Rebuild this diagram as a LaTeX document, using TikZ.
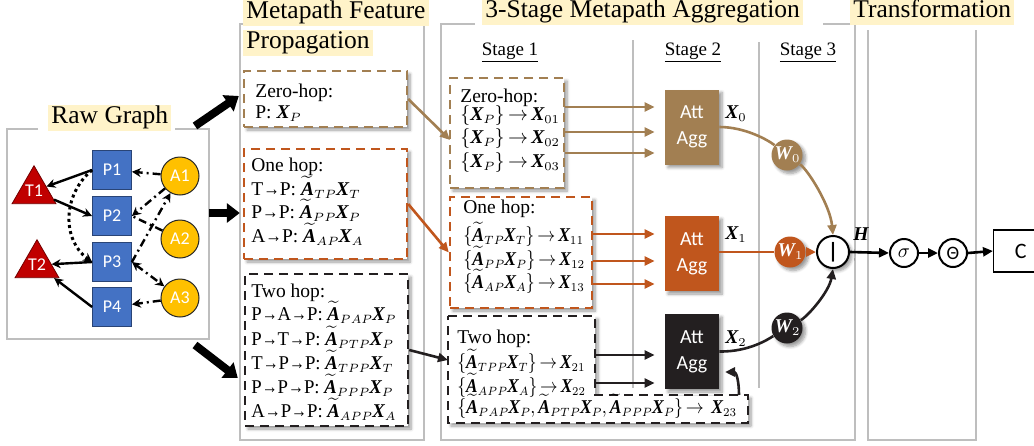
\documentclass[tikz,border=0pt]{standalone}
\usepackage{amsmath}
\usepackage{graphicx}
\usepackage{fontspec}
\setmainfont{Liberation Serif}
\newfontfamily\calib{Carlito}
\usetikzlibrary{arrows.meta,shadows.blur,fit,shapes.geometric,calc}

% smaller subscripts for the body size used in the boxes
\DeclareMathSizes{9.75}{9.75}{6}{4.5}

% bold italic matrix symbols taken from the text face
\newcommand{\BX}{\text{\bfseries\itshape X}}
\newcommand{\BA}{\text{\bfseries\itshape A}}
\newcommand{\BW}{\text{\bfseries\itshape W}}
\newcommand{\BH}{\text{\bfseries\itshape H}}
\newcommand{\TA}{\smash[t]{\widetilde{\BA}}}
\newcommand{\ta}{\scalebox{0.85}[1]{→}}
\newcommand{\sq}[2]{\scalebox{#1}[1]{#2}}
\newcommand{\bodyfont}{\fontsize{9.75}{12}\selectfont}

\definecolor{mpbrown}{HTML}{A27F52}
\definecolor{mporange}{HTML}{C0561D}
\definecolor{mpdark}{HTML}{231F20}
\definecolor{hilite}{HTML}{FFF3C9}
\definecolor{panelgray}{HTML}{BEBEBE}
\definecolor{pblue}{HTML}{4472C4}
\definecolor{ayellow}{HTML}{FFC000}
\definecolor{tred}{HTML}{C00000}

\begin{document}
\thickmuskip=3mu
\scriptspace=0pt
\begin{tikzpicture}[x=0.5pt,y=-0.5pt,
  softshadow/.style={blur shadow={shadow xshift=1.5pt,shadow yshift=-1.5pt,shadow blur radius=1.5pt,shadow blur steps=6,shadow opacity=40}},
  panel/.style={draw=panelgray,line width=0.7pt},
  ttl/.style={fill=hilite,anchor=base west,inner xsep=1.5pt,inner ysep=1.5pt,text height=0.75em,text depth=0.25em,font=\fontsize{12.75}{15}\selectfont},
  body/.style={anchor=base west,inner sep=0,font=\bodyfont},
  stg/.style={anchor=base,inner sep=0,font=\fontsize{9.5}{12}\selectfont},
  gfont/.style={text=white,font=\calib\fontsize{9}{10}\selectfont},
  pbox/.style={rectangle,draw=pblue!60!black,line width=0.4pt,fill=pblue,minimum size=19.5pt,inner sep=0,gfont},
  abox/.style={circle,draw=black!85,line width=0.5pt,fill=ayellow,minimum size=19pt,inner sep=0,gfont},
  tri/.style={regular polygon,regular polygon sides=3,draw=tred!60!black,line width=0.4pt,fill=tred,minimum size=24pt,inner sep=0,gfont},
  gtip/.tip={Stealth[length=4.5pt,width=4.5pt]},
  gedge/.style={line width=1.2pt,-gtip},
  adash/.style={gedge,dash pattern=on 4pt off 2pt on 1pt off 2pt},
  pdot/.style={gedge,line width=1.5pt,dash pattern=on 1.5pt off 1.6pt},
  bigarrow/.style={line width=4pt,-{Triangle[length=6.5pt,width=9.5pt]}},
  dbox/.style={draw=#1,dash pattern=on 4.5pt off 3pt,line width=1.2pt,fill=white,inner sep=0,softshadow},
  agg/.style={fill=#1,text=white,inner sep=0,minimum width=27pt,minimum height=37.5pt,align=center,font=\calib\fontsize{10}{13}\selectfont,softshadow},
  wnode/.style={circle,fill=#1,minimum size=15.5pt,inner sep=0,text=white,font=\bodyfont,softshadow},
  ftip/.tip={Triangle[length=5pt,width=4.5pt]},
  fline/.style={line width=1.3pt,draw=#1},
  flow/.style={fline=#1,-ftip},
  opnode/.style={circle,draw=black,line width=1pt,fill=white,minimum size=14pt,inner sep=0},
  lbl/.style={anchor=base west,inner sep=0,font=\bodyfont}
]
\useasboundingbox (0,0) rectangle (1034,445);

%---------------- panels and titles ----------------
\draw[panel] (38,129) -- (7,129) -- (7,339) -- (209,339) -- (209,129) -- (175,129);
\node[ttl] (ttlraw) at (48,123) {Raw Graph};

\draw[panel] (240,24) rectangle (424,440);
\node[ttl] (ttlprop1) at (243,18) {Metapath Feature};
\node[ttl] (ttlprop2) at (243,48) {Propagation};

\draw[panel] (475,24) -- (441,24) -- (441,440) -- (855,440) -- (855,24) -- (823,24);
\node[ttl] (ttlagg) at (482,17) {3-Stage Metapath Aggregation};
\draw[panel] (633,40) -- (633,388);
\draw[panel] (759,42) -- (759,388);
\node[stg] (st1) at (510,55) {\underline{Stage 1}};
\node[stg] (st2) at (693,55) {\underline{Stage 2}};
\node[stg] (st3) at (808,55) {\underline{Stage 3}};

\draw[panel] (868,30) -- (868,440) -- (976,440) -- (976,30);
\node[ttl] (ttltr) at (850,17) {Transformation};

%---------------- raw graph ----------------
\node[pbox] (p1) at (112,170) {P1};
\node[pbox] (p2) at (112,216) {P2};
\node[pbox] (p3) at (112,262) {P3};
\node[pbox] (p4) at (112,307) {P4};
\node[abox] (a1) at (180,176) {A1};
\node[abox] (a2) at (180,239) {A2};
\node[abox] (a3) at (180,298) {A3};
\node[tri] (t1) at (34,191) {T1};
\node[tri] (t2) at (37,265) {T2};

\draw[gedge] (p1.west) -- (t1);
\draw[gedge] (t1) -- (p2.west);
\draw[gedge] (p3.west) -- (t2);
\draw[gedge] (p4.west) -- (t2);
\draw[pdot] (p1.west) .. controls (62,195) and (62,240) .. (p3.west);
\draw[adash] (a1) -- (p1);
\draw[adash] (a1) -- (p2.east);
\draw[adash] (p3.east) -- (a1);
\draw[adash,-] (a2) -- (p2.east);
\draw[adash,gtip-gtip] (p3.east) -- (a3);
\draw[adash] (a3) -- (p4);

%---------------- feature propagation ----------------
\node[dbox=mpbrown,fit={(244,71) (407,127)}] (zp) {};
\node[dbox=mporange,fit={(244,149) (407,259)}] (op) {};
\node[dbox=mpdark,fit={(245,274) (408,426)}] (tp) {};

\node[body] (zp0) at (255,97) {Zero-hop:};
\node[body] (zp1) at (255,118) {P: $\BX_P$};
\node[body] (op0) at (251,171) {One hop:};
\node[body] (op1) at (251,195) {T\ta P: $\TA_{TP}\BX_T$};
\node[body] (op2) at (251,218) {P\ta P: $\TA_{PP}\BX_P$};
\node[body] (op3) at (251,242) {A\ta P: $\TA_{AP}\BX_A$};
\node[body] (tp0) at (251,297) {Two hop:};
\node[body] (tp1) at (251,320) {\sq{0.96}{P\ta A\ta P: $\TA_{PAP}\BX_P$}};
\node[body] (tp2) at (251,345) {\sq{0.96}{P\ta T\ta P: $\TA_{PTP}\BX_P$}};
\node[body] (tp3) at (251,369) {\sq{0.96}{T\ta P\ta P: $\TA_{TPP}\BX_T$}};
\node[body] (tp4) at (251,393) {\sq{0.96}{P\ta P\ta P: $\TA_{PPP}\BX_P$}};
\node[body] (tp5) at (251,417) {\sq{0.96}{A\ta P\ta P: $\TA_{APP}\BX_A$}};

% thick arrows out of the raw graph
\coordinate (rgA) at (195,126);
\coordinate (rgB) at (209,213);
\coordinate (rgC) at (195,345);
\draw[bigarrow] (rgA) -- ($(zp.west)+(-4,-3)$);
\draw[bigarrow] (rgB) -- ($(rgB -| op.west)+(-3,0)$);
\draw[bigarrow] (rgC) -- ($(tp.west)+(-6,28)$);

%---------------- stage 1 ----------------
\node[dbox=mpbrown,fit={(450,78) (564,188)}] (zs) {};
\node[dbox=mporange,fit={(450,197) (592,308)}] (os) {};
\draw[dbox=mpdark] (448,316) -- (595,316) -- (595,395) -- (748,395) -- (748,423) -- (448,423) -- cycle;
\coordinate (tsNE) at (595,316);
\coordinate (tsW) at (448,360);
\coordinate (x23top) at (739,395);

\node[body] (zs0) at (460,102) {Zero-hop:};
\node[body] (zs1) at (460,120) {$\{\BX_P\}\rightarrow\BX_{01}$};
\node[body] (zs2) at (460,143) {$\{\BX_P\}\rightarrow\BX_{02}$};
\node[body] (zs3) at (460,167) {$\{\BX_P\}\rightarrow\BX_{03}$};
\node[body] (os0) at (463,213) {One hop:};
\node[body] (os1) at (463,241) {\sq{0.9}{$\{\TA_{TP}\BX_T\}\rightarrow\BX_{11}$}};
\node[body] (os2) at (463,265) {\sq{0.9}{$\{\TA_{PP}\BX_P\}\rightarrow\BX_{12}$}};
\node[body] (os3) at (463,288) {\sq{0.9}{$\{\TA_{AP}\BX_A\}\rightarrow\BX_{13}$}};
\node[body] (ts0) at (457,343) {Two hop:};
\node[body] (ts1) at (457,368) {\sq{0.88}{$\{\TA_{TPP}\BX_T\}\rightarrow\BX_{21}$}};
\node[body] (ts2) at (457,392) {\sq{0.88}{$\{\TA_{APP}\BX_A\}\rightarrow\BX_{22}$}};
\node[body] (ts3) at (457,413) {\sq{0.9}{$\{\TA_{PAP}\BX_P,\TA_{PTP}\BX_P,\TA_{PPP}\BX_P\}\rightarrow\ \BX_{23}$}};

\coordinate (zsin) at (450,140);
\draw[flow=mpbrown] (zp.east) -- (zsin);
\draw[flow=mporange] (op.east) -- (os.west);
\draw[flow=mpdark] (tp.east) -- (tsW);

%---------------- stage 2 ----------------
\node[agg=mpbrown] (ag0) at (692,127) {Att\\Agg};
\node[agg=mporange] (ag1) at (692,253.5) {Att\\Agg};
\node[agg=mpdark] (ag2) at (692,351.5) {Att\\Agg};

\coordinate (r01) at (0,107);
\coordinate (r02) at (0,132);
\coordinate (r03) at (0,153);
\coordinate (r11) at (0,234);
\coordinate (r12) at (0,261);
\coordinate (r13) at (0,284);
\coordinate (r21) at (0,355);
\coordinate (r22) at (0,383);
\foreach \r in {r01,r02,r03}
  \draw[flow=mpbrown,shorten >=5pt] (zs.east |- \r) -- (ag0.west |- \r);
\foreach \r in {r11,r12,r13}
  \draw[flow=mporange,shorten >=5pt] (os.east |- \r) -- (ag1.west |- \r);
\foreach \r in {r21,r22}
  \draw[flow=mpdark,shorten >=5pt] (tsNE |- \r) -- (ag2.west |- \r);
\coordinate (agin) at (725,372);
\draw[flow=mpdark] (x23top) .. controls (739,380) and (736,372) .. (agin);

\node[lbl] (lx0) at (725,118) {$\BX_0$};
\node[lbl] (lx1) at (725,239) {$\BX_1$};
\node[lbl] (lx2) at (725,343) {$\BX_2$};

%---------------- stage 3 ----------------
\node[wnode=mpbrown] (w0) at (787,155) {$\BW_0$};
\node[wnode=mporange] (w1) at (790,252) {$\BW_1$};
\node[wnode=mpdark] (w2) at (787,328) {$\BW_2$};
\node[opnode,minimum size=16pt,softshadow] (cc) at (833,252) {\calib\bfseries\fontsize{11}{12}\selectfont |};

\draw[fline=mpbrown] (ag0.east) .. controls (745,127) and (768,140) .. (w0);
\draw[flow=mpbrown] (w0) .. controls (808,170) and (830,205) .. (cc.north);
\draw[fline=mporange] (ag1.east |- w1) -- (w1);
\draw[flow=mporange] (w1) -- (cc.west);
\draw[fline=mpdark] (ag2.east) .. controls (750,352) and (770,338) .. (w2);
\draw[flow=mpdark] (w2) .. controls (808,316) and (829,292) .. (cc.south);

%---------------- transformation ----------------
\node[lbl] (lh) at (853,240) {$\BH$};
\node[opnode] (sig) at (904,253) {$\sigma$};
\node[opnode] (the) at (953,253) {\calib\fontsize{9.5}{10}\selectfont Θ};
\node[draw=black,line width=0.7pt,minimum width=27pt,minimum height=21pt,inner sep=0,anchor=west,font=\calib\fontsize{11}{12}\selectfont] (cls) at (993,251) {C};

\draw[flow=black] (cc.east) -- (sig.west);
\draw[flow=black] (sig.east) -- (the.west);
\draw[flow=black] (the.east) -- (cls.west);
\end{tikzpicture}
\end{document}
